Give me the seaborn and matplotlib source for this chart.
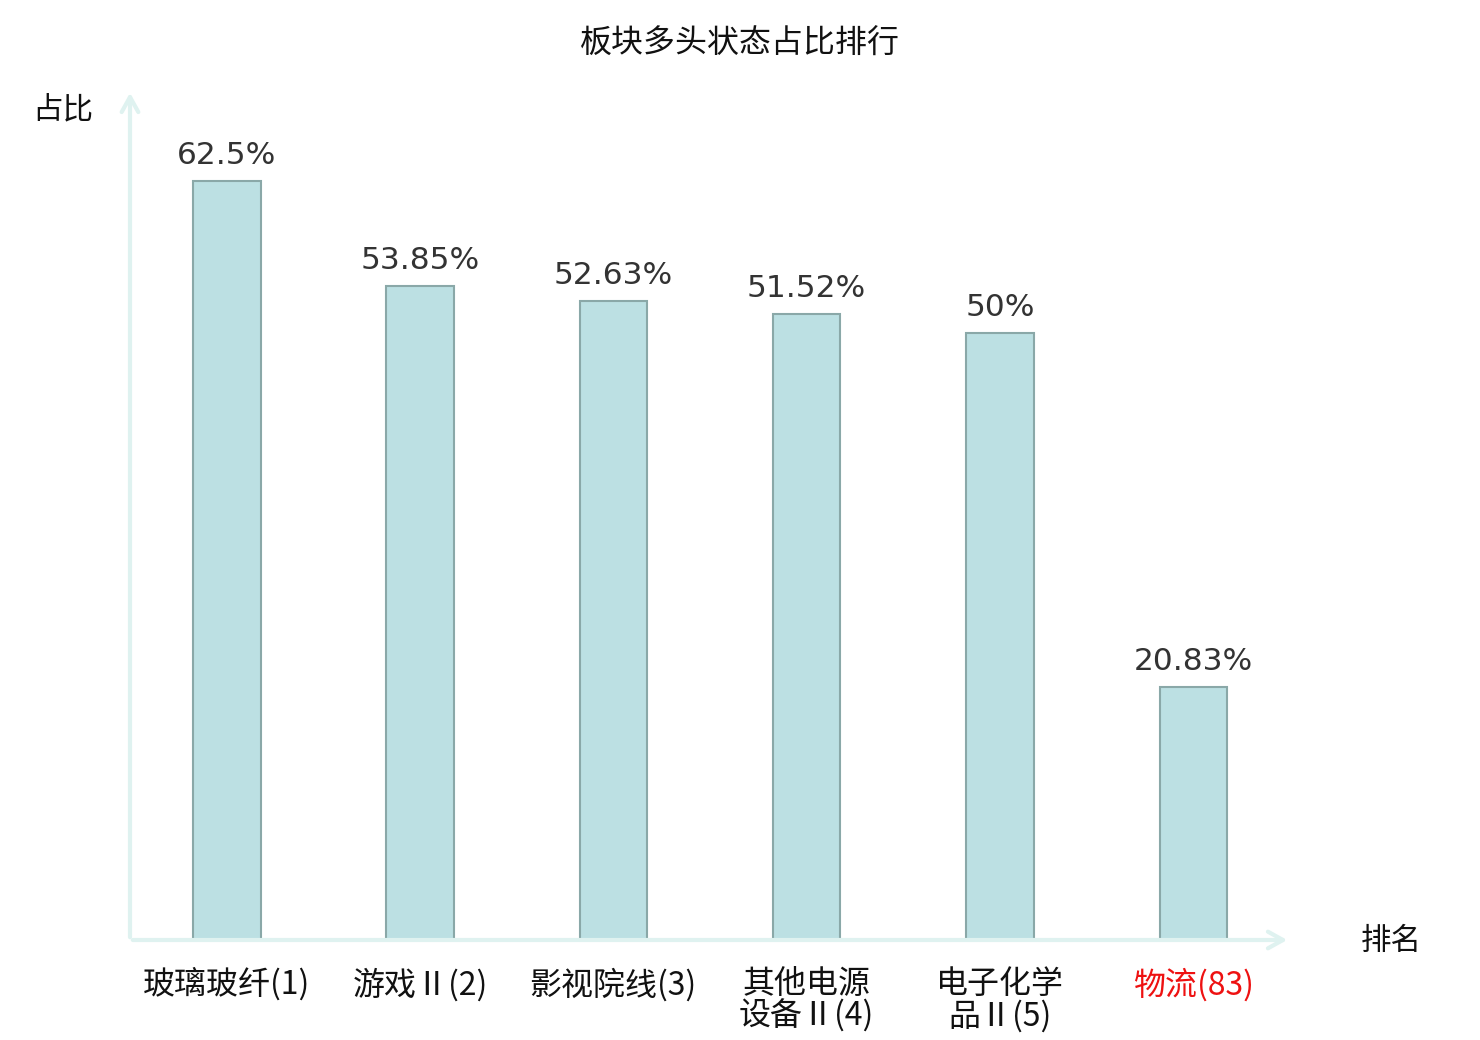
import matplotlib

matplotlib.use("Agg")
import matplotlib.pyplot as plt  # noqa: E402
import pandas as pd  # noqa: E402
import seaborn as sns  # noqa: E402

categories = ["玻璃玻纤(1)", "游戏Ⅱ(2)", "影视院线(3)", "其他电源\n设备Ⅱ(4)", "电子化学\n品Ⅱ(5)", "物流(83)"]
values = [62.5, 53.85, 52.63, 51.52, 50.0, 20.83]
value_labels = ["62.5%", "53.85%", "52.63%", "51.52%", "50%", "20.83%"]
highlight = "物流(83)"

sns.set_theme(style="white")
plt.rcParams["font.family"] = ["Noto Sans CJK SC", "DejaVu Sans"]

AXIS_COLOR = "#dff2f0"
BAR_COLOR = "#bce0e3"
EDGE_COLOR = "#8aa8a8"

df = pd.DataFrame({"name": categories, "ratio": values})

fig = plt.figure(figsize=(14.8, 10.4), dpi=100)
ax = fig.add_axes([130 / 1480, 100 / 1040, 1160 / 1480, 850 / 1040])

sns.barplot(data=df, x="name", y="ratio", width=0.35, color=BAR_COLOR,
            edgecolor=EDGE_COLOR, linewidth=1.5, saturation=1, ax=ax)
ax.set_xlim(-0.5, 5.5)
ax.set_ylim(0, 70)

ax.bar_label(ax.containers[0], labels=value_labels, padding=8,
             fontsize=22.5, color="#333333", family="DejaVu Sans")

for s in ax.spines.values():
    s.set_visible(False)
ax.set_yticks([])
ax.set_xlabel("")
ax.set_ylabel("")
ax.tick_params(axis="x", length=0, pad=20, labelsize=23)
for lab in ax.get_xticklabels():
    lab.set_linespacing(1.0)
    if lab.get_text() == highlight:
        lab.set_color("#ee1111")
    else:
        lab.set_color("#111111")

# axis arrows
arrow = dict(arrowstyle="->,head_length=0.9,head_width=0.5", color=AXIS_COLOR, lw=3)
ax.annotate("", xy=(0, 1.0), xytext=(0, 0), xycoords="axes fraction", arrowprops=arrow,
            annotation_clip=False)
ax.annotate("", xy=(1.0, 0), xytext=(0, 0), xycoords="axes fraction", arrowprops=arrow,
            annotation_clip=False)

fig.text(63 / 1480, 1 - 110 / 1040, "占比", fontsize=22, ha="center", va="center", color="#111111")
fig.text(1391 / 1480, 1 - 941 / 1040, "排名", fontsize=22, ha="center", va="center", color="#111111")
fig.text(740 / 1480, 1 - 44 / 1040, "板块多头状态占比排行", fontsize=23, ha="center", va="center",
         color="#111111")

fig.savefig("out.png", dpi=100)
